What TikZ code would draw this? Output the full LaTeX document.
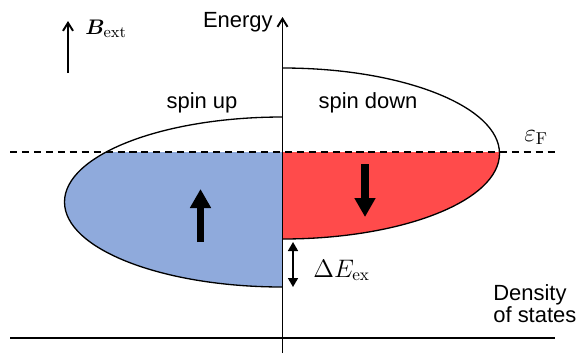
\documentclass[tikz,border=0pt]{standalone}
\usepackage{amsmath,bm}
\usepackage{fontspec}
\newfontfamily\labelfont{Liberation Sans}
\definecolor{UpBlue}{HTML}{8FAADC}
\definecolor{DownRed}{HTML}{FF4B4B}
\usetikzlibrary{arrows.meta}

\begin{document}
\begin{tikzpicture}[
  x=0.02cm,y=0.02cm,
  axis/.style={line width=1.1pt,-{Straight Barb[length=1.6mm,width=2mm]}},
  band/.style={line width=0.75pt},
  fermiline/.style={line width=0.75pt,dash pattern=on 4pt off 2.8pt},
  spinarr/.style={line width=4pt,-{Triangle[width=4mm,length=3.8mm]}},
  gaparr/.style={line width=0.9pt,{Triangle[width=2mm,length=1.8mm]}-{Triangle[width=2mm,length=1.8mm]}},
  lbl/.style={inner sep=0pt,font=\labelfont\fontsize{12.5}{15}\selectfont},
  mathlbl/.style={inner sep=0pt,font=\fontsize{14}{16}\selectfont}
]
\useasboundingbox (0,0) rectangle (577,353);
% band fillings below the Fermi level
\begin{scope}
  \clip (0,0) rectangle (577,201);
  \fill[UpBlue] (282.5,236) arc[start angle=90,end angle=270,x radius=218,y radius=85] -- cycle;
  \fill[DownRed] (282.5,285) arc[start angle=90,end angle=-90,x radius=217,y radius=85.5] -- cycle;
\end{scope}
\draw[band] (282.5,236) arc[start angle=90,end angle=270,x radius=218,y radius=85];
\draw[band] (282.5,285) arc[start angle=90,end angle=-90,x radius=217,y radius=85.5];
\draw[fermiline] (10,201) -- (555,201);
% axes
\coordinate (ebot) at (282.5,0);
\coordinate (etop) at (282.5,336);
\coordinate (dleft) at (10,15);
\coordinate (dright) at (555,15);
\draw[axis] (ebot) -- (etop);
\draw[line width=1.1pt] (dleft) -- (dright);
% spin arrows
\coordinate (upfrom) at (200.5,111);
\coordinate (upto) at (200.5,164);
\coordinate (downfrom) at (365,189);
\coordinate (downto) at (365,136);
\draw[spinarr] (upfrom) -- (upto);
\draw[spinarr] (downfrom) -- (downto);
% exchange splitting
\coordinate (gaptop) at (293,111);
\coordinate (gapbot) at (293,66);
\draw[gaparr] (gapbot) -- (gaptop);
% external field
\coordinate (bfrom) at (68,280);
\coordinate (bto) at (68,332);
\draw[axis] (bfrom) -- (bto);
% labels
\node[mathlbl,anchor=base west,font=\fontsize{13}{15}\selectfont] (bext) at (85,319) {$\bm{B}_{\mathrm{ext}}$};
\node[lbl,anchor=base east] (energy) at (273,326) {Energy};
\node[lbl,anchor=base] (spinup) at (202,245) {spin up};
\node[lbl,anchor=base] (spindown) at (368,245) {spin down};
\node[mathlbl,anchor=base west] (fermi) at (524,212) {$\varepsilon_{\mathrm{F}}$};
\node[mathlbl,anchor=base west] (dex) at (313,76) {$\Delta E_{\mathrm{ex}}$};
\node[lbl,anchor=north west,align=left,font=\labelfont\fontsize{12.5}{12.5}\selectfont] (dos) at (493,68.5) {Density\\of states};
\end{tikzpicture}
\end{document}
